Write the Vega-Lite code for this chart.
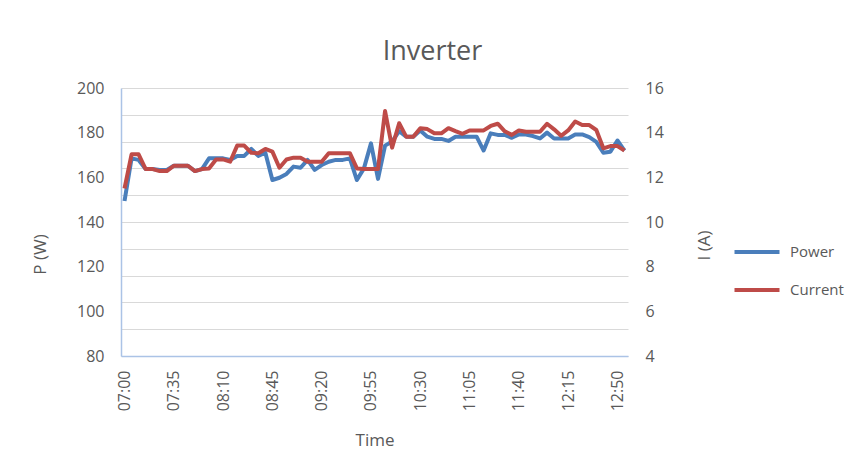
{
  "$schema": "https://vega.github.io/schema/vega-lite/v6.json",
  "width": 507,
  "height": 268,
  "autosize": {"type": "none"},
  "padding": {"left": 121, "top": 88, "right": 220, "bottom": 116},
  "background": "white",
  "config": {
    "font": "Open Sans",
    "view": {"stroke": null}
  },
  "title": {
    "text": "Inverter",
    "fontSize": 27,
    "fontWeight": "normal",
    "color": "#595959",
    "anchor": "middle",
    "frame": "group",
    "dx": 58,
    "offset": 14
  },
  "data": {
    "values": [
      {"t": "07:00", "P": 149.4, "I": 11.5},
      {"t": "07:05", "P": 168.5, "I": 13.03},
      {"t": "07:10", "P": 167.8, "I": 13.03},
      {"t": "07:15", "P": 163.7, "I": 12.37},
      {"t": "07:20", "P": 163.7, "I": 12.37},
      {"t": "07:25", "P": 163.3, "I": 12.28},
      {"t": "07:30", "P": 163.3, "I": 12.28},
      {"t": "07:35", "P": 165.2, "I": 12.52},
      {"t": "07:40", "P": 165.2, "I": 12.52},
      {"t": "07:45", "P": 165.2, "I": 12.52},
      {"t": "07:50", "P": 162.8, "I": 12.28},
      {"t": "07:55", "P": 163.7, "I": 12.37},
      {"t": "08:00", "P": 168.5, "I": 12.4},
      {"t": "08:05", "P": 168.5, "I": 12.8},
      {"t": "08:10", "P": 168.5, "I": 12.8},
      {"t": "08:15", "P": 167.8, "I": 12.7},
      {"t": "08:20", "P": 169.6, "I": 13.42},
      {"t": "08:25", "P": 169.6, "I": 13.42},
      {"t": "08:30", "P": 172.7, "I": 13.1},
      {"t": "08:35", "P": 169.6, "I": 13.08},
      {"t": "08:40", "P": 171.0, "I": 13.27},
      {"t": "08:45", "P": 158.8, "I": 13.15},
      {"t": "08:50", "P": 159.8, "I": 12.43},
      {"t": "08:55", "P": 161.5, "I": 12.8},
      {"t": "09:00", "P": 164.8, "I": 12.88},
      {"t": "09:05", "P": 164.3, "I": 12.88},
      {"t": "09:10", "P": 167.8, "I": 12.7},
      {"t": "09:15", "P": 163.3, "I": 12.7},
      {"t": "09:20", "P": 165.5, "I": 12.7},
      {"t": "09:25", "P": 167.0, "I": 13.08},
      {"t": "09:30", "P": 167.8, "I": 13.08},
      {"t": "09:35", "P": 167.8, "I": 13.08},
      {"t": "09:40", "P": 168.5, "I": 13.08},
      {"t": "09:45", "P": 158.8, "I": 12.4},
      {"t": "09:50", "P": 164.0, "I": 12.37},
      {"t": "09:55", "P": 175.2, "I": 12.37},
      {"t": "10:00", "P": 159.3, "I": 12.37},
      {"t": "10:05", "P": 174.2, "I": 14.97},
      {"t": "10:10", "P": 176.0, "I": 13.33},
      {"t": "10:15", "P": 180.7, "I": 14.42},
      {"t": "10:20", "P": 178.2, "I": 13.82},
      {"t": "10:25", "P": 178.2, "I": 13.82},
      {"t": "10:30", "P": 181.0, "I": 14.2},
      {"t": "10:35", "P": 178.2, "I": 14.16},
      {"t": "10:40", "P": 177.2, "I": 13.97},
      {"t": "10:45", "P": 177.2, "I": 13.97},
      {"t": "10:50", "P": 176.3, "I": 14.2},
      {"t": "10:55", "P": 178.2, "I": 14.07},
      {"t": "11:00", "P": 178.2, "I": 13.95},
      {"t": "11:05", "P": 178.2, "I": 14.1},
      {"t": "11:10", "P": 178.2, "I": 14.1},
      {"t": "11:15", "P": 172.0, "I": 14.1},
      {"t": "11:20", "P": 179.7, "I": 14.3},
      {"t": "11:25", "P": 179.0, "I": 14.4},
      {"t": "11:30", "P": 179.0, "I": 14.06},
      {"t": "11:35", "P": 177.7, "I": 13.9},
      {"t": "11:40", "P": 179.2, "I": 14.1},
      {"t": "11:45", "P": 179.2, "I": 14.04},
      {"t": "11:50", "P": 178.5, "I": 14.04},
      {"t": "11:55", "P": 177.4, "I": 14.04},
      {"t": "12:00", "P": 180.0, "I": 14.4},
      {"t": "12:05", "P": 177.4, "I": 14.15},
      {"t": "12:10", "P": 177.4, "I": 13.86},
      {"t": "12:15", "P": 177.4, "I": 14.1},
      {"t": "12:20", "P": 179.2, "I": 14.5},
      {"t": "12:25", "P": 179.2, "I": 14.34},
      {"t": "12:30", "P": 178.0, "I": 14.34},
      {"t": "12:35", "P": 175.9, "I": 14.12},
      {"t": "12:40", "P": 171.0, "I": 13.3},
      {"t": "12:45", "P": 171.5, "I": 13.4},
      {"t": "12:50", "P": 176.5, "I": 13.4},
      {"t": "12:55", "P": 172.0, "I": 13.2}
    ]
  },
  "encoding": {
    "x": {
      "field": "t",
      "type": "ordinal",
      "sort": null,
      "scale": {"type": "point", "padding": 0.5},
      "axis": {
        "title": "Time",
        "titleFontSize": 17,
        "titleFontWeight": "normal",
        "titleColor": "#595959",
        "titlePadding": 22,
        "labelAngle": -90,
        "labelFontSize": 16,
        "labelColor": "#595959",
        "labelPadding": 14,
        "labelOverlap": false,
        "ticks": false,
        "grid": false,
        "domain": true,
        "domainColor": "#abc3e6",
        "domainWidth": 1.5,
        "values": ["07:00", "07:35", "08:10", "08:45", "09:20", "09:55", "10:30", "11:05", "11:40", "12:15", "12:50"]
      }
    }
  },
  "layer": [
    {
      "mark": {"type": "line", "strokeWidth": 4, "strokeJoin": "round"},
      "encoding": {
        "y": {
          "field": "P",
          "type": "quantitative",
          "scale": {"domain": [80, 200], "nice": false, "zero": false},
          "axis": {
            "orient": "left",
            "title": "P (W)",
            "titleFontSize": 17,
            "titleFontWeight": "normal",
            "titleColor": "#595959",
            "titleAngle": -90,
            "titleX": -81,
            "titleY": 166,
            "titleAlign": "center",
            "titleBaseline": "middle",
            "labelFontSize": 16,
            "labelColor": "#595959",
            "labelPadding": 17,
            "labelOverlap": false,
            "ticks": false,
            "domain": true,
            "domainColor": "#abc3e6",
            "domainWidth": 1.5,
            "values": [80, 92, 100, 104, 116, 120, 128, 140, 152, 160, 164, 176, 180, 188, 200],
            "labelExpr": "(datum.value - 80) % 20 == 0 ? datum.label : ''",
            "grid": true,
            "gridWidth": 1,
            "gridColor": {"condition": {"test": "(datum.value - 80) % 12 == 0", "value": "#d9d9d9"}, "value": "transparent"}
          }
        },
        "color": {
          "datum": "Power",
          "type": "nominal",
          "scale": {"domain": ["Power", "Current"], "range": ["#4a7ebb", "#be4b48"]},
          "legend": {
            "title": null,
            "orient": "none",
            "legendX": 625,
            "legendY": 153,
            "padding": 0,
            "symbolType": "M-2.5,0H2.5",
            "symbolSize": 324,
            "symbolStrokeWidth": 4,
            "labelFontSize": 15,
            "labelColor": "#595959",
            "labelOffset": 22,
            "rowPadding": 19
          }
        }
      }
    },
    {
      "mark": {"type": "line", "strokeWidth": 4, "strokeJoin": "round"},
      "encoding": {
        "y": {
          "field": "I",
          "type": "quantitative",
          "scale": {"domain": [4, 16], "nice": false, "zero": false},
          "axis": {
            "orient": "right",
            "title": "I (A)",
            "titleFontSize": 17,
            "titleFontWeight": "normal",
            "titleColor": "#595959",
            "titleAngle": -90,
            "titleX": 76,
            "titleY": 157,
            "titleAlign": "center",
            "titleBaseline": "middle",
            "labelFontSize": 16,
            "labelColor": "#595959",
            "labelPadding": 17,
            "ticks": false,
            "domain": false,
            "grid": false,
            "values": [4, 6, 8, 10, 12, 14, 16]
          }
        },
        "color": {"datum": "Current", "type": "nominal"}
      }
    }
  ],
  "resolve": {"scale": {"y": "independent"}}
}
